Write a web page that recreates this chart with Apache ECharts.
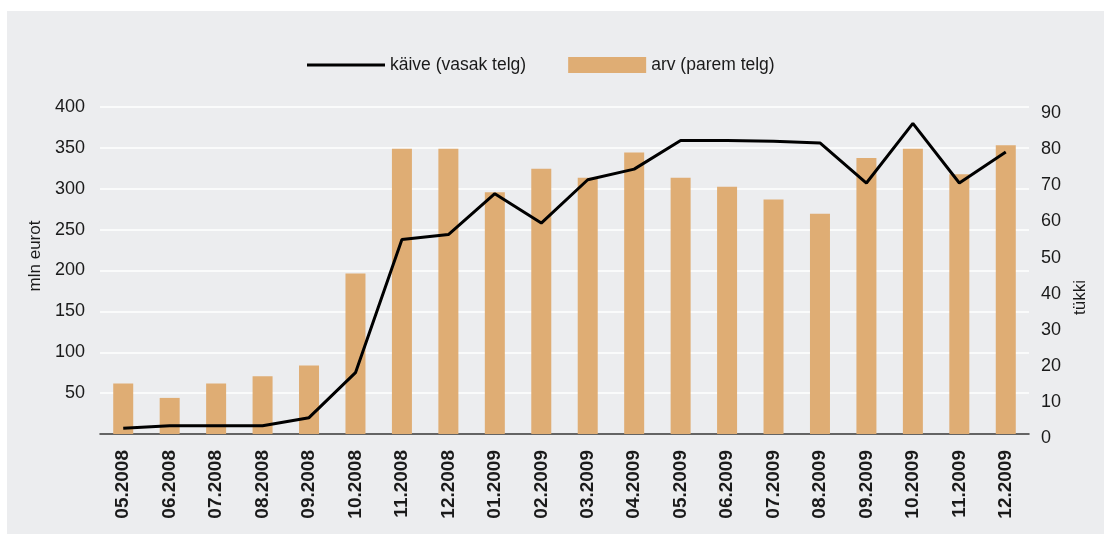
<!DOCTYPE html>
<html>
<head>
<meta charset="utf-8">
<script src="https://cdn.jsdelivr.net/npm/echarts@6/dist/echarts.min.js"></script>
<style>
    html, body { margin: 0; padding: 0; background: #fff; }
    #wrap { position: absolute; left: 7px; top: 11px; width: 1097px; height: 523px; background: #ecedef; }
    #Chart_1 { width: 1097px; height: 523px; }
</style>
</head>
<body>
<div id="wrap"><div id="Chart_1"></div></div>
<script>
// kuud
var months = ['05.2008', '06.2008', '07.2008', '08.2008', '09.2008', '10.2008', '11.2008', '12.2008',
    '01.2009', '02.2009', '03.2009', '04.2009', '05.2009', '06.2009', '07.2009', '08.2009',
    '09.2009', '10.2009', '11.2009', '12.2009'];
// käive, mln eurot (vasak telg)
var kaive = [7, 10, 10, 10, 20, 75, 238, 244, 294, 258, 311, 324, 359, 359, 358, 356, 307, 380, 307, 345];
// arv, tükki (parem telg)
var arv = [14, 10, 14, 16, 19, 44.5, 79, 79, 67, 73.5, 71, 78, 71, 68.5, 65, 61, 76.5, 79, 72, 80];

var font = '"Liberation Sans", Arial, Helvetica, sans-serif';
var chart1 = echarts.init(document.getElementById('Chart_1'));

// õhuke joon legendis (nähtamatud punktid hoiavad kõrgust)
var lineIcon = 'path://M0,0L0.01,0L0,0.01Z M0,6.5L78,6.5L78,9.5L0,9.5Z M0,16L0.01,16L0,15.99Z';

var option1 = {
    backgroundColor: 'transparent',
    textStyle: { fontFamily: font, color: '#1a1a1a' },
    legend: {
        left: 295,
        top: 40,
        itemWidth: 78,
        itemHeight: 16,
        itemGap: 42,
        textStyle: { fontSize: 17.5, color: '#1a1a1a' },
        data: [
            { name: 'käive (vasak telg)', icon: lineIcon },
            { name: 'arv (parem telg)', icon: 'rect' }
        ]
    },
    grid: {
        left: 93,
        right: 75,
        top: 96,
        bottom: 100,
        containLabel: false
    },
    xAxis: [
        {
            type: 'category',
            data: months,
            axisLine: { lineStyle: { color: '#333', width: 1.5 } },
            axisTick: { show: false },
            axisLabel: {
                rotate: 90,
                margin: 16,
                fontSize: 19,
                fontWeight: 'bold',
                color: '#1a1a1a',
                interval: 0
            }
        }
    ],
    yAxis: [
        {
            type: 'value',
            name: 'mln eurot',
            nameLocation: 'middle',
            nameGap: 52,
            nameTextStyle: { fontSize: 17, color: '#1a1a1a', padding: [0, 0, 0, 29] },
            min: 0,
            max: 400,
            interval: 50,
            axisLine: { show: false },
            axisTick: { show: false },
            axisLabel: { showMinLabel: false, fontSize: 18, margin: 15, color: '#1a1a1a' },
            splitLine: { lineStyle: { color: '#ffffff', width: 1.5 } }
        },
        {
            type: 'value',
            name: 'tükki',
            nameLocation: 'middle',
            nameGap: 39,
            nameTextStyle: { fontSize: 17, color: '#1a1a1a', padding: [0, 54, 0, 0] },
            min: 0,
            max: 90.6,
            interval: 10,
            position: 'right',
            axisLine: { show: false },
            axisTick: { show: false },
            axisLabel: {
                showMaxLabel: false,
                fontSize: 18,
                margin: 12,
                color: '#1a1a1a',
                verticalAlign: 'top',
                lineHeight: 8
            },
            splitLine: { show: false }
        }
    ],
    series: [
        {
            name: 'käive (vasak telg)',
            type: 'line',
            yAxisIndex: 0,
            z: 3,
            symbol: 'none',
            color: '#000000',
            lineStyle: { color: '#000000', width: 3 },
            data: kaive
        },
        {
            name: 'arv (parem telg)',
            type: 'bar',
            yAxisIndex: 1,
            barWidth: 20,
            color: '#dfad74',
            itemStyle: { color: '#dfad74' },
            data: arv
        }
    ]
};
chart1.setOption(option1);
</script>
</body>
</html>
